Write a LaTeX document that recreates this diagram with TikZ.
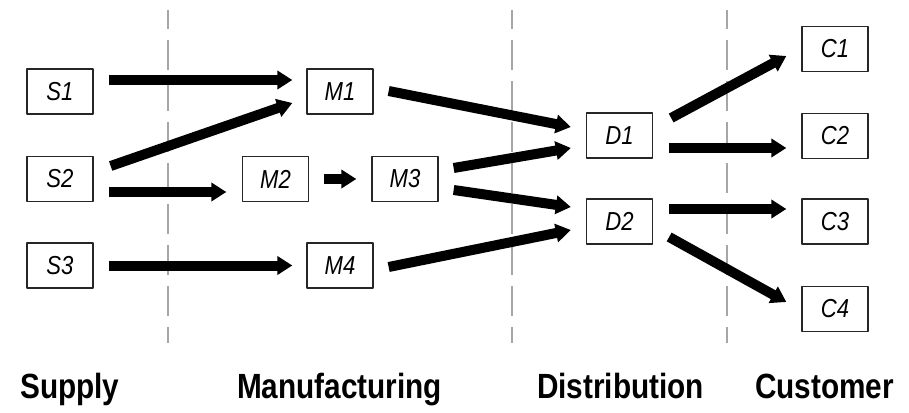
\documentclass[tikz,border=0pt]{standalone}
\usepackage{fontspec}
\newfontfamily\labfont{Liberation Sans}
\usetikzlibrary{arrows.meta,calc}
\newcommand{\sqz}[1]{\scalebox{0.85}[1]{#1}}
\begin{document}
\begin{tikzpicture}[x=1pt, y=-1pt, line join=round,
	box/.style={draw=black!85, line width=1.3pt, minimum width=66pt, minimum height=45pt, inner sep=0pt, font=\labfont\itshape\fontsize{26}{26}\selectfont},
	stage/.style={anchor=base west, inner sep=0pt, font=\labfont\bfseries\fontsize{35}{35}\selectfont},
	flow/.style={line width=10pt, -{Triangle[length=15pt,width=18pt]}},
	tier/.style={gray!70, line width=1.5pt, dash pattern=on 30pt off 11pt, dash phase=11pt}]
	\useasboundingbox (0,0) rectangle (909,412);
	% tier borders
	\foreach \x in {168,512,727} \draw[tier] (\x,10) -- (\x,343);
	% nodes
	\node[box] (S1) at (60,91.5) {\sqz{S1}};
	\node[box] (S2) at (60,179) {\sqz{S2}};
	\node[box] (S3) at (60,265.5) {\sqz{S3}};
	\node[box] (M1) at (340,91.5) {\sqz{M1}};
	\node[box] (M2) at (275.5,179) {\sqz{M2}};
	\node[box] (M3) at (405,179) {\sqz{M3}};
	\node[box] (M4) at (340,265.5) {\sqz{M4}};
	\node[box] (D1) at (619.5,135.5) {\sqz{D1}};
	\node[box] (D2) at (619.5,221.5) {\sqz{D2}};
	\node[box] (C1) at (835,49) {\sqz{C1}};
	\node[box] (C2) at (835,136) {\sqz{C2}};
	\node[box] (C3) at (835,221.5) {\sqz{C3}};
	\node[box] (C4) at (835,309) {\sqz{C4}};
	% flows
	\draw[flow] ($(S1.east)+(15,-11.5)$) -- ($(M1.west)+(-14,-11.5)$);
	\draw[flow] ($(S2.east)+(17,-13)$) -- ($(M1.west)+(-14,11.5)$);
	\draw[flow] ($(S2.east)+(15,13)$) -- ($(M2.west)+(-15.5,13)$);
	\draw[flow] ($(S3.east)+(15,0)$) -- ($(M4.west)+(-14,0)$);
	\draw[flow] ($(M2.east)+(14.5,0)$) -- ($(M3.west)+(-15,0)$);
	\draw[flow] ($(M1.east)+(15,-0.5)$) -- ($(D1.west)+(-15,-8.5)$);
	\draw[flow] ($(M3.east)+(15,-11)$) -- ($(D1.west)+(-15,12.5)$);
	\draw[flow] ($(M3.east)+(15,11)$) -- ($(D2.west)+(-15,-14.5)$);
	\draw[flow] ($(M4.east)+(15,1.5)$) -- ($(D2.west)+(-15,8.5)$);
	\draw[flow] ($(D1.east)+(18,-17.5)$) -- ($(C1.west)+(-15,7)$);
	\draw[flow] ($(D1.east)+(16,12.5)$) -- ($(C2.west)+(-15,12)$);
	\draw[flow] ($(D2.east)+(16,-12.5)$) -- ($(C3.west)+(-15,-12.5)$);
	\draw[flow] ($(D2.east)+(16,15.5)$) -- ($(C4.west)+(-15,-7)$);
	% stage labels
	\node[stage] (supply) at (20,398) {\sqz{Supply}};
	\node[stage] (manuf) at (237,398) {\sqz{Manufacturing}};
	\node[stage] (distr) at (537,398) {\sqz{Distribution}};
	\node[stage] (cust) at (755,398) {\sqz{Customer}};
\end{tikzpicture}
\end{document}
